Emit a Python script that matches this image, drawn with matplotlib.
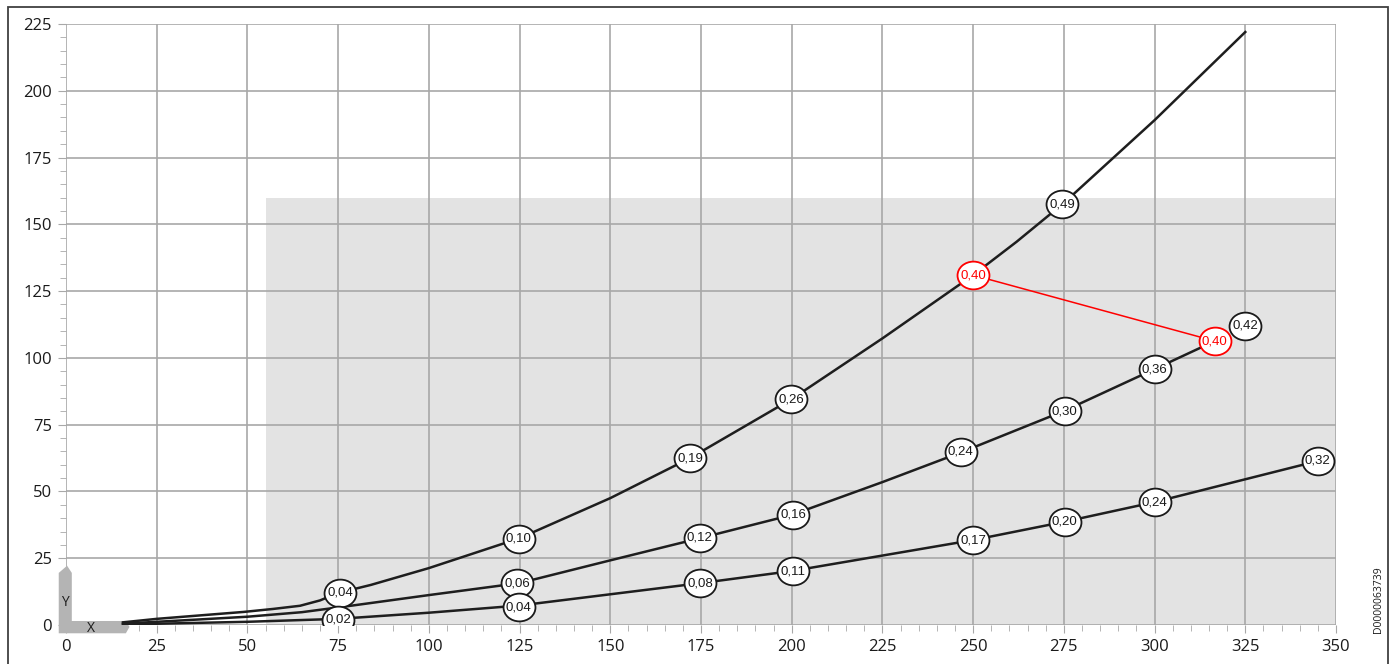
import matplotlib
matplotlib.use("Agg")
import matplotlib.pyplot as plt
from matplotlib.patches import Rectangle, Polygon
from matplotlib.path import Path
from matplotlib.ticker import MultipleLocator

plt.rcParams['font.family'] = ['Open Sans', 'DejaVu Sans']

# --- données ---
haut_x = [15.7, 25, 37, 49, 57, 64.5, 70, 75, 84, 100, 125, 150, 172, 200, 225, 250, 262, 275, 300, 325]
haut_y = [1, 2.3, 3.6, 4.9, 6, 7.2, 9.2, 12, 15, 21.3, 32.5, 47.5, 62.5, 84.6, 107.3, 131, 143.5, 158, 189, 222]

milieu_x = [15.7, 37, 50, 65, 79, 100, 125, 150, 175, 200, 225, 247, 275, 300, 316.6]
milieu_y = [0.5, 2.1, 3.1, 4.8, 7.3, 11.2, 15.7, 24.2, 32.6, 41.2, 53.5, 64.8, 80.1, 95.8, 106.3]

bas_x = [15.7, 50, 75, 100, 125, 150, 175, 200, 225, 250, 275, 300, 345]
bas_y = [0.2, 1.2, 2.3, 4.6, 7.3, 11.5, 15.7, 20.2, 26, 31.8, 38.6, 46, 61.4]

etiq_x = [75.5, 124.8, 172, 199.8, 274.5,
          124.3, 174.7, 200.4, 246.6, 275.2, 300, 325,
          75, 124.8, 174.7, 200.4, 250, 275.2, 300, 345]
etiq_y = [12, 32.2, 62.5, 84.6, 157.6,
          15.7, 32.6, 41.2, 64.8, 80.1, 95.8, 112,
          1.9, 6.7, 15.7, 20.2, 31.8, 38.6, 46, 61.4]
etiq_txt = ["0,04", "0,10", "0,19", "0,26", "0,49",
            "0,06", "0,12", "0,16", "0,24", "0,30", "0,36", "0,42",
            "0,02", "0,04", "0,08", "0,11", "0,17", "0,20", "0,24", "0,32"]

rouge_x = [250, 316.6]
rouge_y = [131, 106.3]
rouge_txt = ["0,40", "0,40"]

fig = plt.figure(figsize=(13.92, 6.64), dpi=100)
ax = fig.add_axes([66 / 1392, 39 / 664, 1270 / 1392, 601 / 664])

ax.set_xlim(0, 350)
ax.set_ylim(0, 225)

# zone grisée
ax.add_patch(Rectangle((55, 0), 295, 160, facecolor='#e3e3e3', edgecolor='none', zorder=0))

ax.xaxis.set_major_locator(MultipleLocator(25))
ax.yaxis.set_major_locator(MultipleLocator(25))
ax.xaxis.set_minor_locator(MultipleLocator(5))
ax.yaxis.set_minor_locator(MultipleLocator(5))
ax.grid(True, which='major', color='#a8a8a8', linewidth=1.2, zorder=1)
ax.set_axisbelow(True)
for s in ax.spines.values():
    s.set_visible(False)
ax.tick_params(which='major', length=6, color='#a8a8a8', labelsize=12, pad=4, labelcolor='#1a1a1a')
ax.tick_params(which='minor', length=4, color='#a8a8a8')

ax.plot(haut_x, haut_y, color='#1e1e1e', lw=1.8, zorder=3)
ax.plot(milieu_x, milieu_y, color='#1e1e1e', lw=1.8, zorder=3)
ax.plot(bas_x, bas_y, color='#1e1e1e', lw=1.8, zorder=3)
ax.plot(rouge_x, rouge_y, color='#ff0000', lw=1.1, zorder=3)

# marqueur ellipse (un peu plus large que haut)
cercle = Path.unit_circle()
ellipse = Path(cercle.vertices * [1.15, 1.0], cercle.codes)

ax.plot(etiq_x, etiq_y, ls='none', marker=ellipse, ms=23, mfc='white', mec='#1a1a1a', mew=1.3, zorder=4)
for x, y, t in zip(etiq_x, etiq_y, etiq_txt):
    ax.text(x, y, t, ha='center', va='center', fontsize=9.5, family=['Liberation Sans'],
            color='#1a1a1a', zorder=5)
ax.plot(rouge_x, rouge_y, ls='none', marker=ellipse, ms=23, mfc='white', mec='#ff0000', mew=1.3, zorder=4)
for x, y, t in zip(rouge_x, rouge_y, rouge_txt):
    ax.text(x, y, t, ha='center', va='center', fontsize=9.5, family=['Liberation Sans'],
            color='#ff0000', zorder=5)

# symbole X / Y en bas à gauche
gris = '#b4b4b4'
ax.add_patch(Polygon([(-2, -3.1), (-2, 19.5), (0.3, 22.2), (1.6, 19.5), (1.6, 1.5),
                      (16.5, 1.5), (17.5, -0.7), (16.5, -3.1)],
                     closed=True, facecolor=gris, edgecolor='none', clip_on=False, zorder=2))
ax.text(-0.2, 8.4, "Y", ha='center', va='center', fontsize=10, color='#1a1a1a', zorder=4)
ax.text(7, -1.2, "X", ha='center', va='center', fontsize=10, color='#1a1a1a', zorder=4)

# cadre extérieur et référence
fig.patches.append(Rectangle((8 / 1392, -0.01), 1380 / 1392, 657 / 664 + 0.01, transform=fig.transFigure,
                             fill=False, edgecolor='#404040', lw=1.3))
fig.text(1378 / 1392, 64 / 664, "D0000063739", rotation=90, ha='center', va='center',
         fontsize=7.5, color='#1a1a1a')

fig.savefig("out.png", dpi=100)
